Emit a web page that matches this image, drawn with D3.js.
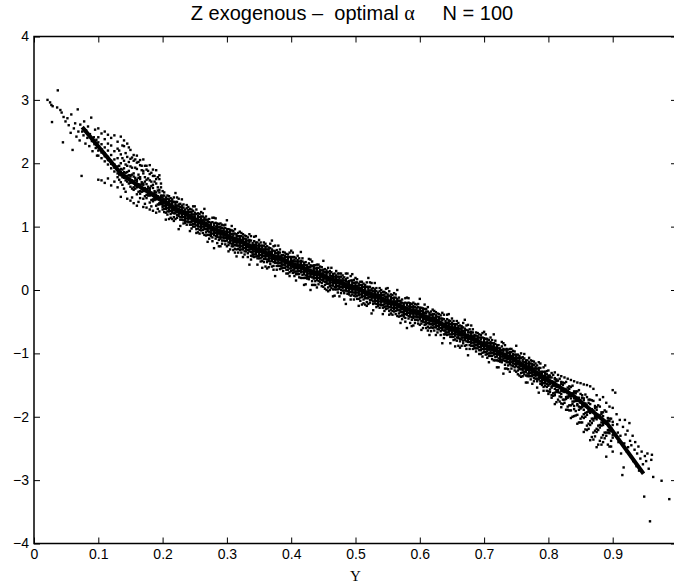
<!DOCTYPE html>
<html><head><meta charset="utf-8">
<script src="https://cdn.jsdelivr.net/npm/d3@7"></script>
<style>body{margin:0;background:#fff}svg{display:block}</style>
</head><body><svg id="c" width="674" height="584"></svg>
<script>
const xTicks=[0,0.1,0.2,0.3,0.4,0.5,0.6,0.7,0.8,0.9,1];
const yTicks=[-4,-3,-2,-1,0,1,2,3,4];
const lineX=[0.075,0.134,0.16,0.20,0.25,0.30,0.35,0.40,0.45,0.50,0.55,0.60,0.65,0.70,0.75,0.787,0.838,0.891,0.948];
const lineY=[2.57,1.85,1.66,1.40,1.12,0.86,0.63,0.42,0.22,0.03,-0.17,-0.38,-0.61,-0.86,-1.12,-1.34,-1.66,-2.10,-2.90];
const leftPoints=[[0.021,3.00],[0.025,2.96],[0.027,2.92],[0.029,2.90],[0.037,3.15],[0.028,2.65],[0.036,2.88],[0.041,2.84],[0.043,2.80],[0.046,2.73],[0.045,2.33],[0.049,2.66],[0.052,2.71],[0.054,2.60],[0.057,2.48],[0.058,2.77],[0.060,2.21],[0.062,2.55],[0.064,2.63],[0.066,2.42],[0.068,2.85],[0.069,2.50],[0.071,2.36],[0.072,2.61],[0.074,1.80],[0.075,2.50],[0.077,2.44],[0.078,2.66],[0.080,2.31],[0.081,2.52],[0.083,2.40],[0.084,2.58],[0.086,2.27],[0.087,2.46],[0.089,2.72],[0.090,2.35],[0.091,2.19],[0.093,2.41],[0.094,2.30],[0.095,2.53],[0.096,2.24],[0.097,2.37],[0.098,2.12],[0.099,2.29]];
const rightPoints=[[0.904,-1.62],[0.906,-1.96],[0.907,-2.12],[0.908,-2.25],[0.909,-2.40],[0.911,-2.05],[0.912,-2.30],[0.913,-2.58],[0.915,-2.92],[0.916,-2.16],[0.917,-2.80],[0.918,-2.42],[0.919,-2.05],[0.920,-2.28],[0.922,-2.55],[0.923,-2.22],[0.924,-2.48],[0.926,-2.10],[0.927,-2.38],[0.928,-2.62],[0.929,-2.45],[0.931,-2.30],[0.932,-2.70],[0.934,-2.52],[0.935,-2.40],[0.937,-2.78],[0.938,-2.58],[0.940,-2.47],[0.941,-2.85],[0.943,-2.66],[0.945,-2.55],[0.947,-2.75],[0.949,-3.26],[0.950,-2.62],[0.952,-2.70],[0.954,-2.58],[0.956,-2.82],[0.958,-3.65],[0.960,-2.68],[0.961,-2.60],[0.963,-2.95],[0.976,-3.01],[0.988,-3.30]];
const bandCols=[
[0.100,[2.55,2.41,2.33,2.26,2.20,2.12,1.74]],
[0.105,[2.47,2.30,2.22,2.17,2.08,1.73]],
[0.110,[2.38,2.50,2.25,2.16,2.11,2.03,1.69]],
[0.115,[2.45,2.31,2.20,2.10,2.05,1.98,1.76]],
[0.120,[2.28,2.40,2.13,2.04,1.99,1.92,1.65]],
[0.125,[2.44,2.19,2.06,1.98,1.93,1.87,1.71]],
[0.130,[2.34,2.23,2.08,1.95,1.89,1.84,1.78,1.62]],
[0.135,[2.42,2.14,2.00,1.91,1.86,1.81,1.70,1.47]],
[0.140,[2.36,2.27,2.04,1.92,1.86,1.82,1.77,1.60]],
[0.145,[2.31,2.10,1.96,1.86,1.80,1.76,1.71,1.44]],
[0.150,[2.21,2.07,1.95,1.81,1.79,1.73,1.69,1.63,1.41]],
[0.155,[2.13,2.04,1.84,1.79,1.71,1.69,1.62,1.58,1.37]],
[0.160,[2.12,2.01,1.91,1.74,1.71,1.64,1.62,1.51,1.33]],
[0.165,[2.05,1.97,1.78,1.75,1.66,1.64,1.56,1.52,1.45]],
[0.170,[2.06,1.88,1.84,1.68,1.66,1.58,1.56,1.44,1.31]],
[0.175,[1.96,1.90,1.74,1.67,1.59,1.57,1.50,1.45,1.30]],
[0.180,[1.97,1.83,1.73,1.61,1.58,1.51,1.49,1.38,1.27]],
[0.185,[1.90,1.80,1.66,1.61,1.52,1.51,1.43,1.40,1.25]],
[0.190,[1.89,1.75,1.68,1.54,1.50,1.45,1.43,1.33,1.22]],
[0.195,[1.81,1.75,1.58,1.54,1.46,1.44,1.37,1.35,1.24]],
[0.200,[1.56,1.49,1.46,1.43,1.40,1.37,1.34,1.31,1.27]],
[0.205,[1.46,1.43,1.40,1.37,1.34,1.31,1.28,1.22,1.11]],
[0.210,[1.48,1.43,1.40,1.37,1.34,1.30,1.27,1.24,1.12]],
[0.215,[1.43,1.40,1.37,1.34,1.31,1.28,1.25,1.22,1.12]],
[0.220,[1.53,1.39,1.36,1.33,1.30,1.27,1.24,1.21,1.12]],
[0.225,[1.44,1.35,1.32,1.28,1.25,1.23,1.20,1.17,0.96]],
[0.230,[1.43,1.33,1.30,1.27,1.24,1.21,1.18,1.15,1.11]],
[0.235,[1.27,1.24,1.21,1.18,1.15,1.12,1.09,1.06]],
[0.240,[1.31,1.26,1.23,1.20,1.16,1.14,1.11,1.07]],
[0.245,[1.27,1.23,1.20,1.16,1.13,1.10,1.07,1.03,0.97]],
[0.250,[1.32,1.22,1.19,1.16,1.13,1.10,1.07,1.04,1.00]],
[0.255,[1.21,1.17,1.14,1.10,1.07,1.04,1.01,0.97,0.91]],
[0.260,[1.23,1.16,1.13,1.10,1.07,1.04,1.01,0.98,0.94]],
[0.265,[1.28,1.14,1.11,1.08,1.05,1.02,0.99,0.96,0.87]],
[0.270,[1.11,1.08,1.05,1.02,0.99,0.96,0.93,0.87,0.76]],
[0.275,[1.06,1.03,1.00,0.97,0.94,0.91,0.88,0.85]],
[0.280,[1.14,1.05,1.02,0.98,0.95,0.93,0.90,0.87,0.66]],
[0.285,[1.05,1.02,0.99,0.96,0.93,0.90,0.87,0.84,0.74]],
[0.290,[1.05,1.00,0.97,0.94,0.91,0.87,0.84,0.81,0.69]],
[0.295,[1.02,0.97,0.94,0.91,0.87,0.85,0.82,0.78]],
[0.300,[1.10,0.96,0.93,0.90,0.87,0.84,0.81,0.78,0.69]],
[0.305,[0.95,0.92,0.89,0.86,0.83,0.80,0.77,0.74,0.64]],
[0.310,[0.93,0.89,0.86,0.82,0.79,0.76,0.73,0.69,0.63]],
[0.315,[0.88,0.85,0.82,0.79,0.76,0.73,0.70,0.64,0.53]],
[0.320,[0.92,0.85,0.82,0.79,0.76,0.73,0.70,0.67,0.63]],
[0.325,[0.88,0.83,0.80,0.77,0.74,0.70,0.67,0.64,0.52]],
[0.330,[0.85,0.80,0.77,0.74,0.70,0.68,0.65,0.61]],
[0.335,[0.88,0.79,0.76,0.72,0.69,0.67,0.64,0.61,0.40]],
[0.340,[0.74,0.71,0.68,0.65,0.62,0.59,0.56,0.53]],
[0.345,[0.85,0.75,0.72,0.69,0.66,0.63,0.60,0.57,0.53]],
[0.350,[0.79,0.72,0.69,0.66,0.63,0.60,0.57,0.54,0.50]],
[0.355,[0.70,0.67,0.64,0.61,0.58,0.55,0.52,0.46,0.35]],
[0.360,[0.73,0.68,0.65,0.62,0.59,0.55,0.52,0.49,0.37]],
[0.365,[0.67,0.64,0.61,0.58,0.55,0.52,0.49,0.46,0.36]],
[0.370,[0.78,0.64,0.61,0.58,0.55,0.52,0.49,0.46,0.37]],
[0.375,[0.70,0.61,0.58,0.54,0.51,0.49,0.46,0.43,0.22]],
[0.380,[0.70,0.60,0.57,0.54,0.51,0.48,0.45,0.42,0.38]],
[0.385,[0.55,0.52,0.49,0.46,0.43,0.40,0.37,0.34]],
[0.390,[0.59,0.54,0.51,0.48,0.44,0.42,0.39,0.35]],
[0.395,[0.56,0.52,0.49,0.45,0.42,0.39,0.36,0.32,0.26]],
[0.400,[0.62,0.52,0.49,0.46,0.43,0.40,0.37,0.34,0.30]],
[0.405,[0.52,0.48,0.45,0.41,0.38,0.35,0.32,0.28,0.22]],
[0.410,[0.54,0.47,0.44,0.41,0.38,0.35,0.32,0.29,0.25]],
[0.415,[0.60,0.46,0.43,0.40,0.37,0.34,0.31,0.28,0.19]],
[0.420,[0.43,0.40,0.37,0.34,0.31,0.28,0.25,0.19,0.08]],
[0.425,[0.39,0.36,0.33,0.30,0.27,0.24,0.21,0.18]],
[0.430,[0.48,0.39,0.36,0.32,0.29,0.27,0.24,0.21,0.00]],
[0.435,[0.39,0.36,0.33,0.30,0.27,0.24,0.21,0.18,0.08]],
[0.440,[0.40,0.35,0.32,0.29,0.26,0.22,0.19,0.16,0.04]],
[0.445,[0.37,0.32,0.29,0.26,0.22,0.20,0.17,0.13]],
[0.450,[0.46,0.32,0.29,0.26,0.23,0.20,0.17,0.14,0.05]],
[0.455,[0.31,0.28,0.25,0.22,0.19,0.16,0.13,0.10,0.00]],
[0.460,[0.30,0.26,0.23,0.19,0.16,0.13,0.10,0.06,0.00]],
[0.465,[0.25,0.22,0.19,0.16,0.13,0.10,0.07,0.01,-0.10]],
[0.470,[0.30,0.23,0.20,0.17,0.14,0.11,0.08,0.05,0.01]],
[0.475,[0.26,0.21,0.18,0.15,0.12,0.08,0.05,0.02,-0.10]],
[0.480,[0.23,0.18,0.15,0.12,0.08,0.06,0.03,-0.01]],
[0.485,[0.26,0.17,0.14,0.10,0.07,0.05,0.02,-0.01,-0.22]],
[0.490,[0.14,0.11,0.08,0.05,0.02,-0.01,-0.04,-0.07]],
[0.495,[0.25,0.15,0.12,0.09,0.06,0.03,0.00,-0.03,-0.07]],
[0.500,[0.19,0.12,0.09,0.06,0.03,0.00,-0.03,-0.06,-0.10]],
[0.505,[0.10,0.07,0.04,0.01,-0.02,-0.05,-0.08,-0.14,-0.25]],
[0.510,[0.13,0.08,0.05,0.02,-0.01,-0.05,-0.08,-0.11,-0.23]],
[0.515,[0.08,0.05,0.02,-0.01,-0.04,-0.07,-0.10,-0.13,-0.23]],
[0.520,[0.19,0.05,0.02,-0.01,-0.04,-0.07,-0.10,-0.13,-0.22]],
[0.525,[0.11,0.02,-0.01,-0.05,-0.08,-0.10,-0.13,-0.16,-0.37]],
[0.530,[0.11,0.01,-0.02,-0.05,-0.08,-0.11,-0.14,-0.17,-0.21]],
[0.535,[-0.04,-0.07,-0.10,-0.13,-0.16,-0.19,-0.22,-0.25]],
[0.540,[0.00,-0.05,-0.08,-0.11,-0.15,-0.17,-0.20,-0.24]],
[0.545,[-0.03,-0.07,-0.10,-0.14,-0.17,-0.20,-0.23,-0.27,-0.33]],
[0.550,[0.03,-0.07,-0.10,-0.13,-0.16,-0.19,-0.22,-0.25,-0.29]],
[0.555,[-0.07,-0.11,-0.14,-0.18,-0.21,-0.24,-0.27,-0.31,-0.37]],
[0.560,[-0.05,-0.12,-0.15,-0.18,-0.21,-0.24,-0.27,-0.30,-0.34]],
[0.565,[0.00,-0.14,-0.17,-0.20,-0.23,-0.26,-0.29,-0.32,-0.41]],
[0.570,[-0.17,-0.20,-0.23,-0.26,-0.29,-0.32,-0.35,-0.41,-0.52]],
[0.575,[-0.21,-0.24,-0.27,-0.30,-0.33,-0.36,-0.39,-0.42]],
[0.580,[-0.12,-0.21,-0.24,-0.28,-0.31,-0.33,-0.36,-0.39,-0.60]],
[0.585,[-0.21,-0.24,-0.27,-0.30,-0.33,-0.36,-0.39,-0.42,-0.52]],
[0.590,[-0.20,-0.25,-0.28,-0.31,-0.34,-0.38,-0.41,-0.44,-0.56]],
[0.595,[-0.23,-0.28,-0.31,-0.34,-0.38,-0.40,-0.43,-0.47]],
[0.600,[-0.14,-0.28,-0.31,-0.34,-0.37,-0.40,-0.43,-0.46,-0.55]],
[0.605,[-0.29,-0.32,-0.35,-0.38,-0.41,-0.44,-0.47,-0.50,-0.60]],
[0.610,[-0.30,-0.34,-0.37,-0.41,-0.44,-0.47,-0.50,-0.54,-0.60]],
[0.615,[-0.36,-0.39,-0.42,-0.45,-0.48,-0.51,-0.54,-0.60,-0.71]],
[0.620,[-0.31,-0.38,-0.41,-0.44,-0.47,-0.50,-0.53,-0.56,-0.60]],
[0.625,[-0.35,-0.40,-0.43,-0.46,-0.49,-0.53,-0.56,-0.59,-0.71]],
[0.630,[-0.38,-0.43,-0.46,-0.49,-0.53,-0.55,-0.58,-0.62]],
[0.635,[-0.36,-0.45,-0.48,-0.52,-0.55,-0.57,-0.60,-0.63,-0.84]],
[0.640,[-0.49,-0.52,-0.55,-0.58,-0.61,-0.64,-0.67,-0.70]],
[0.645,[-0.38,-0.48,-0.51,-0.54,-0.57,-0.60,-0.63,-0.66,-0.70]],
[0.650,[-0.45,-0.52,-0.55,-0.58,-0.61,-0.64,-0.67,-0.70,-0.74]],
[0.655,[-0.54,-0.57,-0.60,-0.63,-0.66,-0.69,-0.72,-0.78,-0.89]],
[0.660,[-0.52,-0.57,-0.60,-0.63,-0.66,-0.70,-0.73,-0.76,-0.88]],
[0.665,[-0.57,-0.60,-0.63,-0.66,-0.69,-0.72,-0.75,-0.78,-0.88]],
[0.670,[-0.47,-0.61,-0.64,-0.67,-0.70,-0.73,-0.76,-0.79,-0.88]],
[0.675,[-0.55,-0.64,-0.67,-0.71,-0.74,-0.76,-0.79,-0.82,-1.03]],
[0.680,[-0.56,-0.66,-0.69,-0.72,-0.75,-0.78,-0.81,-0.84,-0.88]],
[0.685,[-0.71,-0.74,-0.77,-0.80,-0.83,-0.86,-0.89,-0.92]],
[0.690,[-0.68,-0.73,-0.76,-0.79,-0.83,-0.85,-0.88,-0.92]],
[0.695,[-0.71,-0.75,-0.78,-0.82,-0.85,-0.88,-0.91,-0.95,-1.01]],
[0.700,[-0.66,-0.76,-0.79,-0.82,-0.85,-0.88,-0.91,-0.94,-0.98]],
[0.705,[-0.77,-0.81,-0.84,-0.88,-0.91,-0.94,-0.97,-1.01,-1.07]],
[0.710,[-0.75,-0.82,-0.85,-0.88,-0.91,-0.94,-0.97,-1.00,-1.04]],
[0.715,[-0.70,-0.84,-0.87,-0.90,-0.93,-0.96,-0.99,-1.02,-1.11]],
[0.720,[-0.87,-0.90,-0.93,-0.96,-0.99,-1.02,-1.05,-1.11,-1.22]],
[0.725,[-0.92,-0.95,-0.98,-1.01,-1.04,-1.07,-1.10,-1.13]],
[0.730,[-0.84,-0.93,-0.96,-1.00,-1.03,-1.05,-1.08,-1.11,-1.32]],
[0.735,[-0.93,-0.96,-0.99,-1.02,-1.05,-1.08,-1.11,-1.14,-1.24]],
[0.740,[-0.93,-0.98,-1.01,-1.04,-1.07,-1.11,-1.14,-1.17,-1.29]],
[0.745,[-0.96,-1.01,-1.04,-1.07,-1.11,-1.13,-1.16,-1.20]],
[0.750,[-0.88,-1.02,-1.05,-1.08,-1.11,-1.14,-1.17,-1.20,-1.29]],
[0.755,[-1.04,-1.07,-1.10,-1.13,-1.16,-1.19,-1.22,-1.25,-1.35]],
[0.760,[-1.06,-1.10,-1.13,-1.17,-1.20,-1.23,-1.26,-1.30,-1.36]],
[0.765,[-1.11,-1.14,-1.17,-1.20,-1.23,-1.26,-1.29,-1.35,-1.46]],
[0.770,[-1.07,-1.14,-1.17,-1.20,-1.23,-1.26,-1.29,-1.32,-1.36]],
[0.775,[-1.12,-1.17,-1.20,-1.23,-1.26,-1.30,-1.33,-1.36,-1.48]],
[0.780,[-1.16,-1.21,-1.24,-1.27,-1.31,-1.33,-1.36,-1.40]],
[0.785,[-1.14,-1.23,-1.26,-1.30,-1.33,-1.35,-1.38,-1.41,-1.62]],
[0.790,[-1.29,-1.32,-1.35,-1.38,-1.41,-1.44,-1.47,-1.50]],
[0.795,[-1.19,-1.29,-1.32,-1.35,-1.38,-1.41,-1.44,-1.47,-1.51]],
[0.800,[-1.27,-1.35,-1.37,-1.42,-1.45,-1.49,-1.51,-1.60,-1.64]],
[0.805,[-1.31,-1.38,-1.44,-1.47,-1.52,-1.54,-1.66,-1.70]],
[0.810,[-1.30,-1.39,-1.41,-1.46,-1.51,-1.56,-1.62,-1.66,-1.80]],
[0.815,[-1.34,-1.43,-1.50,-1.53,-1.58,-1.61,-1.73]],
[0.820,[-1.36,-1.45,-1.48,-1.55,-1.59,-1.64,-1.69,-1.79,-1.85]],
[0.825,[-1.38,-1.47,-1.56,-1.60,-1.61,-1.73,-1.78]],
[0.830,[-1.40,-1.54,-1.59,-1.63,-1.68,-1.70,-1.84,-1.89]],
[0.835,[-1.42,-1.53,-1.64,-1.67,-1.71,-1.82,-1.90,-2.02]],
[0.840,[-1.44,-1.60,-1.62,-1.71,-1.76,-1.83,-1.88,-1.99]],
[0.845,[-1.46,-1.60,-1.70,-1.75,-1.80,-1.82,-1.97,-2.11]],
[0.850,[-1.47,-1.64,-1.74,-1.78,-1.85,-1.87,-2.03,-2.09]],
[0.855,[-1.49,-1.71,-1.74,-1.83,-1.89,-1.96,-2.02,-2.24]],
[0.860,[-1.50,-1.69,-1.82,-1.84,-1.93,-1.97,-2.14,-2.21]],
[0.865,[-1.52,-1.73,-1.80,-1.91,-1.94,-2.07,-2.13,-2.37]],
[0.870,[-1.56,-1.75,-1.90,-1.92,-2.03,-2.06,-2.25,-2.36]],
[0.875,[-1.66,-1.85,-1.89,-2.01,-2.04,-2.19,-2.24,-2.48]],
[0.880,[-1.73,-1.84,-1.98,-2.01,-2.13,-2.17,-2.38]],
[0.885,[-1.69,-1.93,-1.99,-2.10,-2.13,-2.29,-2.40]],
[0.890,[-1.78,-1.92,-2.08,-2.11,-2.25,-2.30,-2.63]],
[0.895,[-1.84,-2.03,-2.07,-2.22,-2.26,-2.47]],
[0.900,[-1.58,-1.86,-2.08,-2.13,-2.29,-2.33,-2.55]]
];
const bandColsHalf=[
[0.1325,[2.20,1.96,1.88,1.82,1.74]],
[0.1375,[2.28,2.08,1.90,1.84,1.78,1.66]],
[0.1425,[2.16,1.98,1.85,1.79,1.73,1.55]],
[0.1475,[2.25,2.02,1.88,1.81,1.75,1.68]],
[0.1525,[2.09,1.93,1.82,1.73,1.70,1.60,1.46]],
[0.1575,[2.06,1.93,1.77,1.73,1.65,1.60]],
[0.1625,[2.02,1.82,1.77,1.67,1.64,1.55,1.39]],
[0.1675,[1.96,1.89,1.70,1.67,1.59,1.55]],
[0.1725,[1.96,1.78,1.71,1.61,1.58,1.48,1.36]],
[0.1775,[1.88,1.76,1.63,1.60,1.52,1.49]],
[0.1825,[1.85,1.71,1.64,1.54,1.51,1.42,1.32]],
[0.1875,[1.80,1.71,1.56,1.53,1.45,1.42]],
[0.1925,[1.78,1.62,1.57,1.48,1.44,1.35,1.28]],
[0.1975,[1.68,1.62,1.49,1.47,1.39,1.36]],
[0.2025,[1.54,1.49,1.43,1.38,1.33,1.28,1.23]],
[0.2075,[1.49,1.44,1.39,1.34,1.29,1.24,1.19]],
[0.2125,[1.45,1.40,1.35,1.30,1.25,1.20,1.14]],
[0.2175,[1.46,1.39,1.31,1.26,1.21,1.15,1.09]],
[0.2225,[1.46,1.39,1.33,1.28,1.23,1.18,1.14]],
[0.2275,[1.36,1.31,1.26,1.21,1.15,1.11,1.01]],
[0.2325,[1.35,1.30,1.25,1.20,1.15,1.10,1.05]],
[0.2375,[1.34,1.29,1.23,1.18,1.13,1.08,1.03]],
[0.2425,[1.28,1.23,1.18,1.13,1.07,1.03,0.93]],
[0.2475,[1.32,1.25,1.19,1.14,1.09,1.04,1.00]],
[0.2525,[1.27,1.20,1.12,1.07,1.02,0.96,0.90]],
[0.2575,[1.20,1.15,1.10,1.05,1.00,0.95,0.89]],
[0.2625,[1.21,1.16,1.10,1.05,1.00,0.95,0.90]],
[0.2675,[1.16,1.11,1.06,1.01,0.96,0.91,0.86]],
[0.2725,[1.12,1.07,1.02,0.97,0.92,0.87,0.81]],
[0.2775,[1.14,1.07,0.99,0.94,0.89,0.83,0.77]],
[0.2825,[1.13,1.06,1.00,0.95,0.90,0.85,0.81]],
[0.2875,[1.04,0.99,0.94,0.89,0.83,0.79,0.69]],
[0.2925,[1.03,0.98,0.93,0.88,0.83,0.78,0.73]],
[0.2975,[1.03,0.98,0.92,0.87,0.82,0.77,0.72]],
[0.3025,[0.96,0.91,0.86,0.81,0.75,0.71,0.61]],
[0.3075,[1.01,0.94,0.88,0.83,0.78,0.73,0.69]],
[0.3125,[0.96,0.89,0.81,0.76,0.71,0.65,0.59]],
[0.3175,[0.90,0.85,0.80,0.75,0.70,0.65,0.59]],
[0.3225,[0.90,0.85,0.79,0.74,0.69,0.64,0.59]],
[0.3275,[0.86,0.81,0.76,0.71,0.66,0.61,0.56]],
[0.3325,[0.83,0.78,0.73,0.68,0.63,0.58,0.52]],
[0.3375,[0.85,0.78,0.70,0.65,0.60,0.54,0.48]],
[0.3425,[0.84,0.77,0.71,0.66,0.61,0.56,0.52]],
[0.3475,[0.75,0.70,0.65,0.60,0.54,0.50,0.40]],
[0.3525,[0.75,0.70,0.65,0.60,0.55,0.50,0.45]],
[0.3575,[0.75,0.70,0.64,0.59,0.54,0.49,0.44]],
[0.3625,[0.69,0.64,0.59,0.54,0.48,0.44,0.34]],
[0.3675,[0.73,0.66,0.60,0.55,0.50,0.45,0.41]],
[0.3725,[0.69,0.62,0.54,0.49,0.44,0.38,0.32]],
[0.3775,[0.63,0.58,0.53,0.48,0.43,0.38,0.32]],
[0.3825,[0.64,0.59,0.53,0.48,0.43,0.38,0.33]],
[0.3875,[0.60,0.55,0.50,0.45,0.40,0.35,0.30]],
[0.3925,[0.57,0.52,0.47,0.42,0.37,0.32,0.26]],
[0.3975,[0.59,0.52,0.44,0.39,0.34,0.28,0.22]],
[0.4025,[0.59,0.52,0.46,0.41,0.36,0.31,0.27]],
[0.4075,[0.50,0.45,0.40,0.35,0.29,0.25,0.15]],
[0.4125,[0.50,0.45,0.40,0.35,0.30,0.25,0.20]],
[0.4175,[0.50,0.45,0.39,0.34,0.29,0.24,0.19]],
[0.4225,[0.44,0.39,0.34,0.29,0.23,0.19,0.09]],
[0.4275,[0.49,0.42,0.36,0.31,0.26,0.21,0.17]],
[0.4325,[0.45,0.38,0.30,0.25,0.20,0.14,0.08]],
[0.4375,[0.39,0.34,0.29,0.24,0.19,0.14,0.08]],
[0.4425,[0.40,0.35,0.29,0.24,0.19,0.14,0.09]],
[0.4475,[0.36,0.31,0.26,0.21,0.16,0.11,0.06]],
[0.4525,[0.33,0.28,0.23,0.18,0.13,0.08,0.02]],
[0.4575,[0.35,0.28,0.20,0.15,0.10,0.04,-0.02]],
[0.4625,[0.35,0.28,0.22,0.17,0.12,0.07,0.03]],
[0.4675,[0.26,0.21,0.16,0.11,0.05,0.01,-0.09]],
[0.4725,[0.26,0.21,0.16,0.11,0.06,0.01,-0.04]],
[0.4775,[0.26,0.21,0.15,0.10,0.05,0.00,-0.05]],
[0.4825,[0.20,0.15,0.10,0.05,-0.01,-0.05,-0.15]],
[0.4875,[0.26,0.19,0.13,0.08,0.03,-0.02,-0.06]],
[0.4925,[0.22,0.15,0.07,0.02,-0.03,-0.09,-0.15]],
[0.4975,[0.16,0.11,0.06,0.01,-0.04,-0.09,-0.15]],
[0.5025,[0.17,0.12,0.06,0.01,-0.04,-0.09,-0.14]],
[0.5075,[0.13,0.08,0.03,-0.02,-0.07,-0.12,-0.17]],
[0.5125,[0.10,0.05,0.00,-0.05,-0.10,-0.15,-0.21]],
[0.5175,[0.12,0.05,-0.03,-0.08,-0.13,-0.19,-0.25]],
[0.5225,[0.12,0.05,-0.01,-0.06,-0.11,-0.16,-0.20]],
[0.5275,[0.03,-0.02,-0.07,-0.12,-0.18,-0.22,-0.32]],
[0.5325,[0.03,-0.02,-0.07,-0.12,-0.17,-0.22,-0.27]],
[0.5375,[0.03,-0.02,-0.08,-0.13,-0.18,-0.23,-0.28]],
[0.5425,[-0.03,-0.08,-0.13,-0.18,-0.24,-0.28,-0.38]],
[0.5475,[0.02,-0.05,-0.11,-0.16,-0.21,-0.26,-0.30]],
[0.5525,[-0.02,-0.09,-0.17,-0.22,-0.27,-0.33,-0.39]],
[0.5575,[-0.08,-0.13,-0.18,-0.23,-0.28,-0.33,-0.39]],
[0.5625,[-0.07,-0.12,-0.18,-0.23,-0.28,-0.33,-0.38]],
[0.5675,[-0.12,-0.17,-0.22,-0.27,-0.32,-0.37,-0.42]],
[0.5725,[-0.15,-0.20,-0.25,-0.30,-0.35,-0.40,-0.46]],
[0.5775,[-0.13,-0.20,-0.28,-0.33,-0.38,-0.44,-0.50]],
[0.5825,[-0.13,-0.20,-0.26,-0.31,-0.36,-0.41,-0.45]],
[0.5875,[-0.22,-0.27,-0.32,-0.37,-0.43,-0.47,-0.57]],
[0.5925,[-0.22,-0.27,-0.32,-0.37,-0.42,-0.47,-0.52]],
[0.5975,[-0.22,-0.27,-0.33,-0.38,-0.43,-0.48,-0.53]],
[0.6025,[-0.28,-0.33,-0.38,-0.43,-0.49,-0.53,-0.63]],
[0.6075,[-0.23,-0.30,-0.36,-0.41,-0.46,-0.51,-0.55]],
[0.6125,[-0.27,-0.34,-0.42,-0.47,-0.52,-0.58,-0.64]],
[0.6175,[-0.34,-0.39,-0.44,-0.49,-0.54,-0.59,-0.65]],
[0.6225,[-0.33,-0.38,-0.44,-0.49,-0.54,-0.59,-0.64]],
[0.6275,[-0.37,-0.42,-0.47,-0.52,-0.57,-0.62,-0.67]],
[0.6325,[-0.40,-0.45,-0.50,-0.55,-0.60,-0.65,-0.71]],
[0.6375,[-0.39,-0.46,-0.54,-0.59,-0.64,-0.70,-0.76]],
[0.6425,[-0.39,-0.46,-0.52,-0.57,-0.62,-0.67,-0.71]],
[0.6475,[-0.49,-0.54,-0.59,-0.64,-0.70,-0.74,-0.84]],
[0.6525,[-0.49,-0.54,-0.59,-0.64,-0.69,-0.74,-0.79]],
[0.6575,[-0.49,-0.54,-0.60,-0.65,-0.70,-0.75,-0.80]],
[0.6625,[-0.56,-0.61,-0.66,-0.71,-0.77,-0.81,-0.91]],
[0.6675,[-0.52,-0.59,-0.65,-0.70,-0.75,-0.80,-0.84]],
[0.6725,[-0.56,-0.63,-0.71,-0.76,-0.81,-0.87,-0.93]],
[0.6775,[-0.62,-0.67,-0.72,-0.77,-0.82,-0.87,-0.93]],
[0.6825,[-0.62,-0.67,-0.73,-0.78,-0.83,-0.88,-0.93]],
[0.6875,[-0.67,-0.72,-0.77,-0.82,-0.87,-0.92,-0.97]],
[0.6925,[-0.70,-0.75,-0.80,-0.85,-0.90,-0.95,-1.01]],
[0.6975,[-0.68,-0.75,-0.83,-0.88,-0.93,-0.99,-1.05]],
[0.7025,[-0.70,-0.77,-0.83,-0.88,-0.93,-0.98,-1.02]],
[0.7075,[-0.79,-0.84,-0.89,-0.94,-1.00,-1.04,-1.14]],
[0.7125,[-0.79,-0.84,-0.89,-0.94,-0.99,-1.04,-1.09]],
[0.7175,[-0.80,-0.85,-0.91,-0.96,-1.01,-1.06,-1.11]],
[0.7225,[-0.87,-0.92,-0.97,-1.02,-1.08,-1.12,-1.22]],
[0.7275,[-0.82,-0.89,-0.95,-1.00,-1.05,-1.10,-1.14]],
[0.7325,[-0.87,-0.94,-1.02,-1.07,-1.12,-1.18,-1.24]],
[0.7375,[-0.94,-0.99,-1.04,-1.09,-1.14,-1.19,-1.25]],
[0.7425,[-0.93,-0.98,-1.04,-1.09,-1.14,-1.19,-1.24]],
[0.7475,[-0.97,-1.02,-1.07,-1.12,-1.17,-1.22,-1.27]],
[0.7525,[-1.02,-1.07,-1.12,-1.17,-1.22,-1.27,-1.33]],
[0.7575,[-1.00,-1.07,-1.15,-1.20,-1.25,-1.31,-1.37]],
[0.7625,[-1.01,-1.08,-1.14,-1.19,-1.24,-1.29,-1.33]],
[0.7675,[-1.11,-1.16,-1.21,-1.26,-1.32,-1.36,-1.46]],
[0.7725,[-1.11,-1.16,-1.21,-1.26,-1.31,-1.36,-1.41]],
[0.7775,[-1.13,-1.18,-1.24,-1.29,-1.34,-1.39,-1.44]],
[0.7825,[-1.19,-1.24,-1.29,-1.34,-1.40,-1.44,-1.54]],
[0.7875,[-1.16,-1.23,-1.29,-1.34,-1.39,-1.44,-1.48]],
[0.7925,[-1.22,-1.29,-1.37,-1.42,-1.47,-1.53,-1.59]],
[0.7975,[-1.28,-1.33,-1.38,-1.43,-1.48,-1.53,-1.59]],
[0.8025,[-1.35,-1.38,-1.46,-1.48,-1.57,-1.61]],
[0.8075,[-1.34,-1.45,-1.50,-1.51,-1.63,-1.67]],
[0.8125,[-1.41,-1.44,-1.53,-1.58,-1.61,-1.77]],
[0.8175,[-1.40,-1.51,-1.52,-1.62,-1.68,-1.76]],
[0.8225,[-1.46,-1.50,-1.59,-1.60,-1.73,-1.80]],
[0.8275,[-1.45,-1.57,-1.58,-1.69,-1.72,-1.89]],
[0.8325,[-1.52,-1.56,-1.66,-1.68,-1.82,-1.90]],
[0.8375,[-1.51,-1.63,-1.65,-1.76,-1.80,-2.00]],
[0.8425,[-1.60,-1.63,-1.74,-1.75,-1.91,-1.98]],
[0.8475,[-1.58,-1.70,-1.72,-1.84,-1.89,-2.09]],
[0.8525,[-1.66,-1.70,-1.81,-1.85,-2.00,-2.09]],
[0.8575,[-1.65,-1.79,-1.80,-1.94,-2.00,-2.20]],
[0.8625,[-1.73,-1.78,-1.90,-1.92,-2.11,-2.19]],
[0.8675,[-1.74,-1.88,-1.89,-2.03,-2.10,-2.32]],
[0.8725,[-1.83,-1.86,-1.99,-2.02,-2.22,-2.31]],
[0.8775,[-1.82,-1.97,-1.99,-2.14,-2.21,-2.44]],
[0.8825,[-1.93,-1.96,-2.09,-2.14,-2.33,-2.44]],
[0.8875,[-1.90,-2.07,-2.10,-2.25,-2.34]],
[0.8925,[-2.02,-2.06,-2.21,-2.25,-2.44]],
[0.8975,[-2.03,-2.18,-2.22,-2.38,-2.47]]
];

const points=[...leftPoints];
bandCols.concat(bandColsHalf).forEach(([x,ys])=>ys.forEach(y=>points.push([x,y])));
rightPoints.forEach(p=>points.push(p));

const svg=d3.select("#c");
const L=34,R=677,T=36.5,B=543.5;
const x=d3.scaleLinear().domain([0,1]).range([L,R]);
const y=d3.scaleLinear().domain([-4,4]).range([B,T]);
const font="Liberation Sans, Arial, Helvetica, sans-serif";

svg.append("g").selectAll("rect").data(points).join("rect")
  .attr("x",d=>x(d[0])-1.2).attr("y",d=>y(d[1])-1.2)
  .attr("width",2.4).attr("height",2.4).attr("fill","#000");

svg.append("path").datum(lineX.map((v,i)=>[v,lineY[i]]))
  .attr("fill","none").attr("stroke","#000").attr("stroke-width",4)
  .attr("stroke-linejoin","round")
  .attr("d",d3.line().x(d=>x(d[0])).y(d=>y(d[1])));

function styleAxis(g){
  g.select(".domain").remove();
  g.selectAll(".tick line").attr("stroke","#000").attr("stroke-width",1);
  g.selectAll(".tick text").attr("font-family",font).attr("font-size",14).attr("fill","#000");
}
const fmt=d=>d<0?"\u2212"+Math.abs(d):String(d);
svg.append("g").attr("transform",`translate(0,${B})`)
  .call(d3.axisBottom(x).tickValues(xTicks).tickSizeInner(-6).tickSizeOuter(0).tickPadding(6).tickFormat(d=>d===1?"":String(d)))
  .call(styleAxis);
svg.append("g").attr("transform",`translate(0,${T})`)
  .call(d3.axisTop(x).tickValues(xTicks).tickSizeInner(-6).tickSizeOuter(0).tickFormat(""))
  .call(styleAxis);
svg.append("g").attr("transform",`translate(${L},0)`)
  .call(d3.axisLeft(y).tickValues(yTicks).tickSizeInner(-6).tickSizeOuter(0).tickPadding(5).tickFormat(fmt))
  .call(styleAxis);
svg.append("g").attr("transform",`translate(${R},0)`)
  .call(d3.axisRight(y).tickValues(yTicks).tickSizeInner(-6).tickSizeOuter(0).tickFormat(""))
  .call(styleAxis);

svg.append("rect").attr("x",L).attr("y",T).attr("width",R-L).attr("height",B-T)
  .attr("fill","none").attr("stroke","#000").attr("stroke-width",1.5);

const title=svg.append("text").attr("x",352).attr("y",20).attr("text-anchor","middle")
  .attr("font-family",font).attr("font-size",20).style("white-space","pre");
title.append("tspan").text("Z exogenous \u2013  optimal ");
title.append("tspan").attr("font-family","Liberation Serif, Times New Roman, serif").text("\u03b1");
title.append("tspan").text("     N = 100");

svg.append("text").attr("x",(L+R)/2).attr("y",581).attr("text-anchor","middle")
  .attr("font-family","Liberation Serif, Times New Roman, serif").attr("font-size",15).text("Y");
</script></body></html>
